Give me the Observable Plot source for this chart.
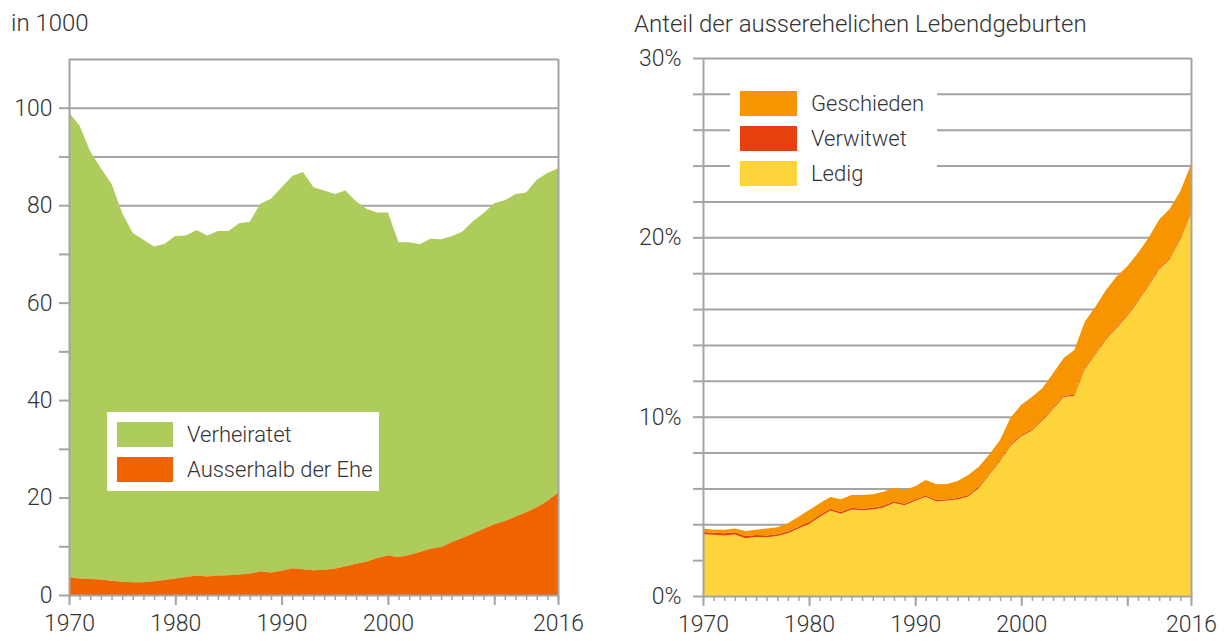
<!DOCTYPE html>
<html>
<head>
<meta charset="utf-8">
<script src="https://cdn.jsdelivr.net/npm/d3@7"></script>
<script src="https://cdn.jsdelivr.net/npm/@observablehq/plot@0.6"></script>
<style>
  body { margin: 0; background: #fff; font-family: Roboto, "Noto Sans", sans-serif; }
  #wrap { position: relative; width: 1229px; height: 641px; overflow: hidden; background: #fff; }
  .title { position: absolute; font-size: 24px; font-weight: 300; color: #333; white-space: nowrap; line-height: 24px; }
  .chart { position: absolute; top: 0; }
  .legend { position: absolute; background: #fff; }
  .sw { position: absolute; }
  .lab { position: absolute; font-size: 22px; font-weight: 300; color: #333; white-space: nowrap; line-height: 25px; }
</style>
</head>
<body>
<div id="wrap"></div>
<script>
// ---------- DATA ----------
const years = [1970,1971,1972,1973,1974,1975,1976,1977,1978,1979,
               1980,1981,1982,1983,1984,1985,1986,1987,1988,1989,
               1990,1991,1992,1993,1994,1995,1996,1997,1998,1999,
               2000,2001,2002,2003,2004,2005,2006,2007,2008,2009,
               2010,2011,2012,2013,2014,2015,2016];

// Left chart: live births in 1000
const totalBirths = [99.0,96.3,91.0,87.6,84.4,78.4,74.3,72.9,71.5,72.1,
                     73.7,73.8,74.9,73.8,74.7,74.7,76.3,76.6,80.3,81.3,
                     83.7,86.0,86.8,83.7,83.0,82.3,83.0,80.8,79.2,78.5,
                     78.5,72.4,72.4,72.0,73.1,73.0,73.6,74.6,76.7,78.4,
                     80.4,81.0,82.3,82.6,85.2,86.6,87.6];
const ausserhalb = [3.7,3.4,3.3,3.2,2.9,2.7,2.6,2.6,2.8,3.1,
                    3.4,3.7,4.0,3.8,4.0,4.05,4.2,4.4,4.8,4.6,
                    5.0,5.5,5.3,5.1,5.2,5.4,5.9,6.4,6.9,7.6,
                    8.1,7.8,8.2,8.8,9.5,9.8,10.9,11.7,12.6,13.6,
                    14.5,15.2,16.1,17.0,18.0,19.3,21.0];
const leftSeries = ["Verheiratet", "Ausserhalb der Ehe"];
const leftColors = ["#adcc5b", "#f06400"];
const leftTicks = [0,10,20,30,40,50,60,70,80,90,100,110];

// Right chart: share of non-marital live births (%)
const ledig = [3.45,3.41,3.38,3.43,3.22,3.29,3.27,3.34,3.50,3.76,
               4.02,4.41,4.77,4.58,4.83,4.78,4.83,4.94,5.19,5.06,
               5.31,5.53,5.27,5.32,5.38,5.55,6.02,6.77,7.51,8.39,
               8.91,9.23,9.78,10.43,11.09,11.15,12.64,13.48,14.32,14.96,
               15.62,16.42,17.29,18.23,18.78,19.90,21.30];
const verwitwet = [0.12,0.12,0.12,0.12,0.12,0.11,0.11,0.11,0.10,0.10,
                   0.10,0.10,0.10,0.10,0.09,0.09,0.09,0.09,0.09,0.09,
                   0.08,0.08,0.08,0.08,0.08,0.08,0.08,0.08,0.08,0.08,
                   0.07,0.07,0.07,0.07,0.07,0.07,0.07,0.07,0.07,0.07,
                   0.07,0.07,0.07,0.07,0.07,0.07,0.07];
const geschieden = [0.20,0.17,0.20,0.22,0.28,0.30,0.39,0.38,0.45,0.56,
                    0.67,0.66,0.65,0.71,0.71,0.76,0.75,0.79,0.76,0.76,
                    0.73,0.86,0.88,0.85,0.95,1.12,1.11,1.05,1.11,1.48,
                    1.68,1.80,1.75,1.92,2.11,2.50,2.60,2.60,2.69,2.80,
                    2.70,2.64,2.61,2.70,2.74,2.61,2.70];
const rightSeries = ["Geschieden", "Verwitwet", "Ledig"];
const rightColors = ["#f79500", "#e8400c", "#fdd53b"];
const rightTicks = [0,2,4,6,8,10,12,14,16,18,20,22,24,26,28,30];

const majorYears = [1970,1980,1990,2000,2010,2016];
const labelYears = [1970,1980,1990,2000,2016];

const titleLeft = "in 1000";
const titleRight = "Anteil der ausserehelichen Lebendgeburten";

// ---------- TABLES ----------
const leftData = years.map((year, i) => ({year, total: totalBirths[i], ausser: ausserhalb[i]}));
const rightData = [];
years.forEach((year, i) => {
  rightData.push({year, series: "Ledig", value: ledig[i]});
  rightData.push({year, series: "Verwitwet", value: verwitwet[i]});
  rightData.push({year, series: "Geschieden", value: geschieden[i]});
});

const GRID = "#a4a4a4";
const TEXT = "#333";
const style = {fontFamily: "Roboto, 'Noto Sans', sans-serif", fontSize: "23px", fontWeight: 300, color: TEXT, background: "transparent", overflow: "visible"};

const wrap = document.getElementById("wrap");

function xAxes() {
  return [
    Plot.axisX({ticks: years, tickSize: 5, tickFormat: () => "", stroke: GRID, strokeWidth: 1.5, label: null}),
    Plot.axisX({ticks: majorYears, tickSize: 10, tickPadding: 9, stroke: GRID, strokeWidth: 2,
                tickFormat: d => labelYears.includes(d) ? String(d) : "", label: null})
  ];
}

// ---------- LEFT CHART ----------
const left = Plot.plot({
  width: 600, height: 641,
  marginLeft: 69, marginRight: 42, marginTop: 59, marginBottom: 46,
  style,
  x: {domain: [1970, 2016], label: null},
  y: {domain: [0, 110], label: null},
  color: {domain: leftSeries, range: leftColors},
  marks: [
    Plot.ruleY(leftTicks.slice(1), {stroke: GRID, strokeWidth: 2}),
    Plot.areaY(leftData, {x: "year", y1: "ausser", y2: "total", fill: () => leftSeries[0]}),
    Plot.areaY(leftData, {x: "year", y1: 0, y2: "ausser", fill: () => leftSeries[1]}),
    Plot.ruleX([1970, 2016], {stroke: GRID, strokeWidth: 2}),
    Plot.ruleY([0], {stroke: GRID, strokeWidth: 2}),
    Plot.axisY({ticks: leftTicks.slice(0, -1), tickSize: 10, tickPadding: 7, stroke: GRID, strokeWidth: 2,
                tickFormat: d => d % 20 === 0 ? String(d) : "", label: null}),
    ...xAxes()
  ]
});
left.classList.add("chart");
left.style.left = "0px";
wrap.appendChild(left);

// ---------- RIGHT CHART ----------
const right = Plot.plot({
  width: 629, height: 641,
  marginLeft: 103, marginRight: 38, marginTop: 58, marginBottom: 45,
  style,
  x: {domain: [1970, 2016], label: null},
  y: {domain: [0, 30], label: null},
  color: {domain: rightSeries, range: rightColors},
  marks: [
    Plot.ruleY(rightTicks.slice(1), {stroke: GRID, strokeWidth: 2}),
    Plot.areaY(rightData, Plot.stackY({x: "year", y: "value", fill: "series", order: ["Ledig", "Verwitwet", "Geschieden"]})),
    Plot.ruleX([1970, 2016], {stroke: GRID, strokeWidth: 2}),
    Plot.ruleY([0], {stroke: GRID, strokeWidth: 2}),
    Plot.axisY({ticks: rightTicks, tickSize: 10, tickPadding: 12, stroke: GRID, strokeWidth: 2,
                tickFormat: d => d % 10 === 0 ? d + "%" : "", label: null}),
    ...xAxes()
  ]
});
right.classList.add("chart");
right.style.left = "600px";
wrap.appendChild(right);

// ---------- TITLES ----------
function addTitle(text, x, y) {
  const d = document.createElement("div");
  d.className = "title";
  d.textContent = text;
  d.style.left = x + "px";
  d.style.top = y + "px";
  wrap.appendChild(d);
}
addTitle(titleLeft, 11, 11);
addTitle(titleRight, 634, 12);

// ---------- LEGENDS ----------
function addLegend(box, names, colors, swX, swY0, step, swW, swH, labX) {
  const lg = document.createElement("div");
  lg.className = "legend";
  Object.assign(lg.style, {left: box[0] + "px", top: box[1] + "px", width: box[2] + "px", height: box[3] + "px"});
  wrap.appendChild(lg);
  names.forEach((n, i) => {
    const s = document.createElement("div");
    s.className = "sw";
    Object.assign(s.style, {left: swX + "px", top: (swY0 + i * step) + "px", width: swW + "px", height: swH + "px", background: colors[i]});
    wrap.appendChild(s);
    const t = document.createElement("div");
    t.className = "lab";
    t.textContent = n;
    Object.assign(t.style, {left: labX + "px", top: (swY0 + i * step) + "px"});
    wrap.appendChild(t);
  });
}
addLegend([107, 412, 272, 79], leftSeries, leftColors, 117, 422, 35, 56, 25, 187);
addLegend([730, 78, 207, 118], rightSeries, rightColors, 740, 91, 35, 57, 25, 811);
</script>
</body>
</html>
